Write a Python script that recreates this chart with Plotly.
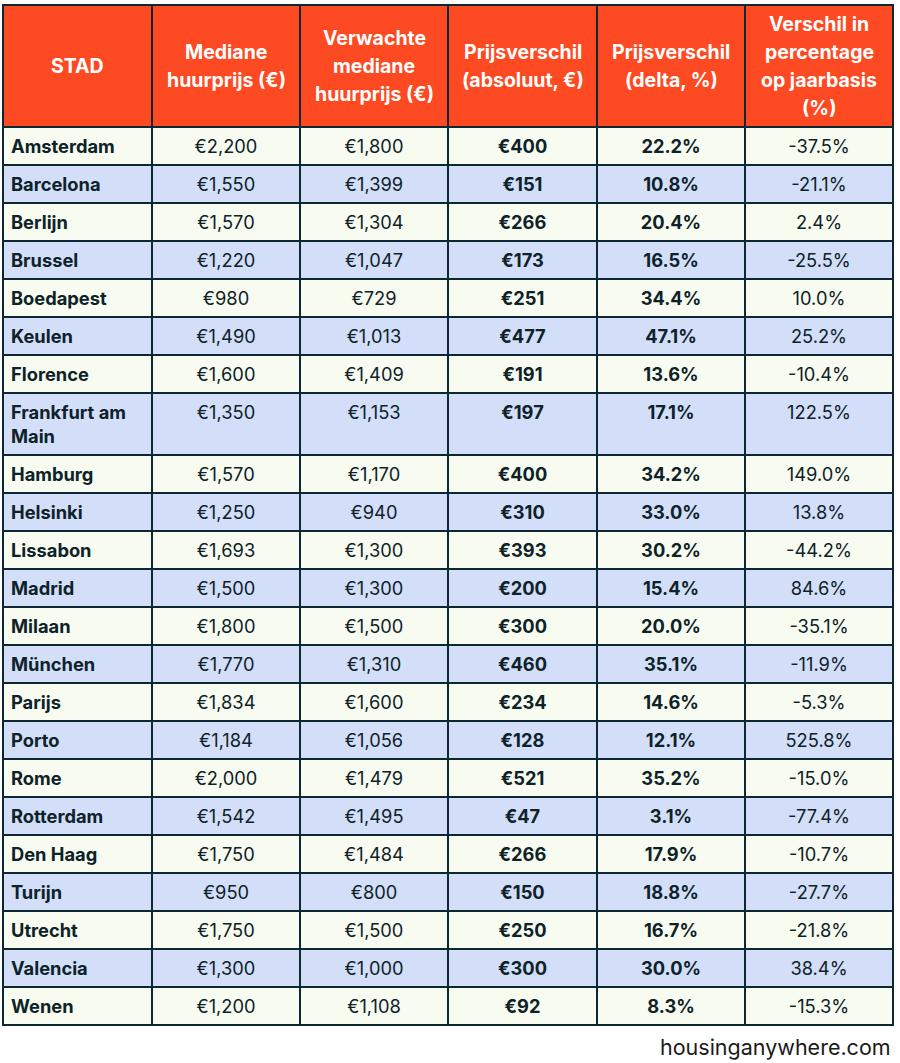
import plotly.graph_objects as go

cities = ["Amsterdam", "Barcelona", "Berlijn", "Brussel", "Boedapest", "Keulen", "Florence",
          "Frankfurt am<br>Main", "Hamburg", "Helsinki", "Lissabon", "Madrid", "Milaan", "München",
          "Parijs", "Porto", "Rome", "Rotterdam", "Den Haag", "Turijn", "Utrecht", "Valencia", "Wenen"]
median_rent = ["€2,200", "€1,550", "€1,570", "€1,220", "€980", "€1,490", "€1,600", "€1,350", "€1,570",
               "€1,250", "€1,693", "€1,500", "€1,800", "€1,770", "€1,834", "€1,184", "€2,000", "€1,542",
               "€1,750", "€950", "€1,750", "€1,300", "€1,200"]
expected_rent = ["€1,800", "€1,399", "€1,304", "€1,047", "€729", "€1,013", "€1,409", "€1,153", "€1,170",
                 "€940", "€1,300", "€1,300", "€1,500", "€1,310", "€1,600", "€1,056", "€1,479", "€1,495",
                 "€1,484", "€800", "€1,500", "€1,000", "€1,108"]
diff_abs = ["€400", "€151", "€266", "€173", "€251", "€477", "€191", "€197", "€400", "€310", "€393",
            "€200", "€300", "€460", "€234", "€128", "€521", "€47", "€266", "€150", "€250", "€300", "€92"]
diff_pct = ["22.2%", "10.8%", "20.4%", "16.5%", "34.4%", "47.1%", "13.6%", "17.1%", "34.2%", "33.0%",
            "30.2%", "15.4%", "20.0%", "35.1%", "14.6%", "12.1%", "35.2%", "3.1%", "17.9%", "18.8%",
            "16.7%", "30.0%", "8.3%"]
yoy_pct = ["-37.5%", "-21.1%", "2.4%", "-25.5%", "10.0%", "25.2%", "-10.4%", "122.5%", "149.0%", "13.8%",
           "-44.2%", "84.6%", "-35.1%", "-11.9%", "-5.3%", "525.8%", "-15.0%", "-77.4%", "-10.7%",
           "-27.7%", "-21.8%", "38.4%", "-15.3%"]
header_lines = [["STAD"],
                ["Mediane", "huurprijs (€)"],
                ["Verwachte", "mediane", "huurprijs (€)"],
                ["Prijsverschil", "(absoluut, €)"],
                ["Prijsverschil", "(delta, %)"],
                ["Verschil in", "percentage", "op jaarbasis", "(%)"]]
source = "housinganywhere.com"

HEADER_BG = "#FD4A22"
ROW_A = "#F8FBEF"
ROW_B = "#D3DEF9"
BORDER = "#0D2833"
TEXT = "#0D2229"
FONT = "Inter, Arial, sans-serif"

W, H = 900, 1063
TABLE_X0, TABLE_X1, TABLE_TOP = 3, 893, 5
HEADER_H = 122
CELL_H = 38
HEADER_LINE_GAP = 28
colwidths = [149, 148, 148, 149, 148, 148]

row_colors = [ROW_A if i % 2 == 0 else ROW_B for i in range(len(cities))]

def bold(lst):
    return ["<b>" + s + "</b>" for s in lst]

def plain(lst):
    return ["<span>" + s + "</span>" for s in lst]

fig = go.Figure(go.Table(
    domain=dict(x=[TABLE_X0 / W, TABLE_X1 / W], y=[0, 1 - TABLE_TOP / H]),
    columnwidth=colwidths,
    header=dict(
        values=["" for _ in header_lines],
        fill_color=HEADER_BG,
        line=dict(color=BORDER, width=2.5),
        align="center",
        font=dict(family=FONT, size=19.5, color="white"),
        height=HEADER_H,
    ),
    cells=dict(
        values=[bold(cities), plain(median_rent), plain(expected_rent), bold(diff_abs), bold(diff_pct),
                plain(yoy_pct)],
        fill_color=[row_colors] * 6,
        line=dict(color=BORDER, width=2.5),
        align=["left", "center", "center", "center", "center", "center"],
        font=dict(family=FONT, size=18.3, color=TEXT),
        height=CELL_H,
    ),
))

# header texts, centred per column and vertically within the header band
total_w = sum(colwidths)
span = TABLE_X1 - TABLE_X0
left = TABLE_X0
header_mid = TABLE_TOP + HEADER_H / 2
for cw, lines in zip(colwidths, header_lines):
    w = span * cw / total_w
    cx = left + w / 2
    n = len(lines)
    for i, line in enumerate(lines):
        cy = header_mid + (i - (n - 1) / 2) * HEADER_LINE_GAP
        fig.add_annotation(text="<b>" + line + "</b>", x=cx / W, y=1 - cy / H, xref="paper", yref="paper",
                           xanchor="center", yanchor="middle", showarrow=False,
                           font=dict(family=FONT, size=19.5, color="white"))
    left += w

fig.add_annotation(text=source, x=TABLE_X1 / W, y=1 - 1047 / H, xref="paper", yref="paper",
                   xanchor="right", yanchor="middle", showarrow=False,
                   font=dict(family=FONT, size=21.5, color="#1A1A1A"))

fig.update_layout(width=W, height=H, margin=dict(l=0, r=0, t=0, b=0), paper_bgcolor="white")
fig.write_html("out.html", config={"displayModeBar": False},
               post_script="document.body.style.margin='0';")
